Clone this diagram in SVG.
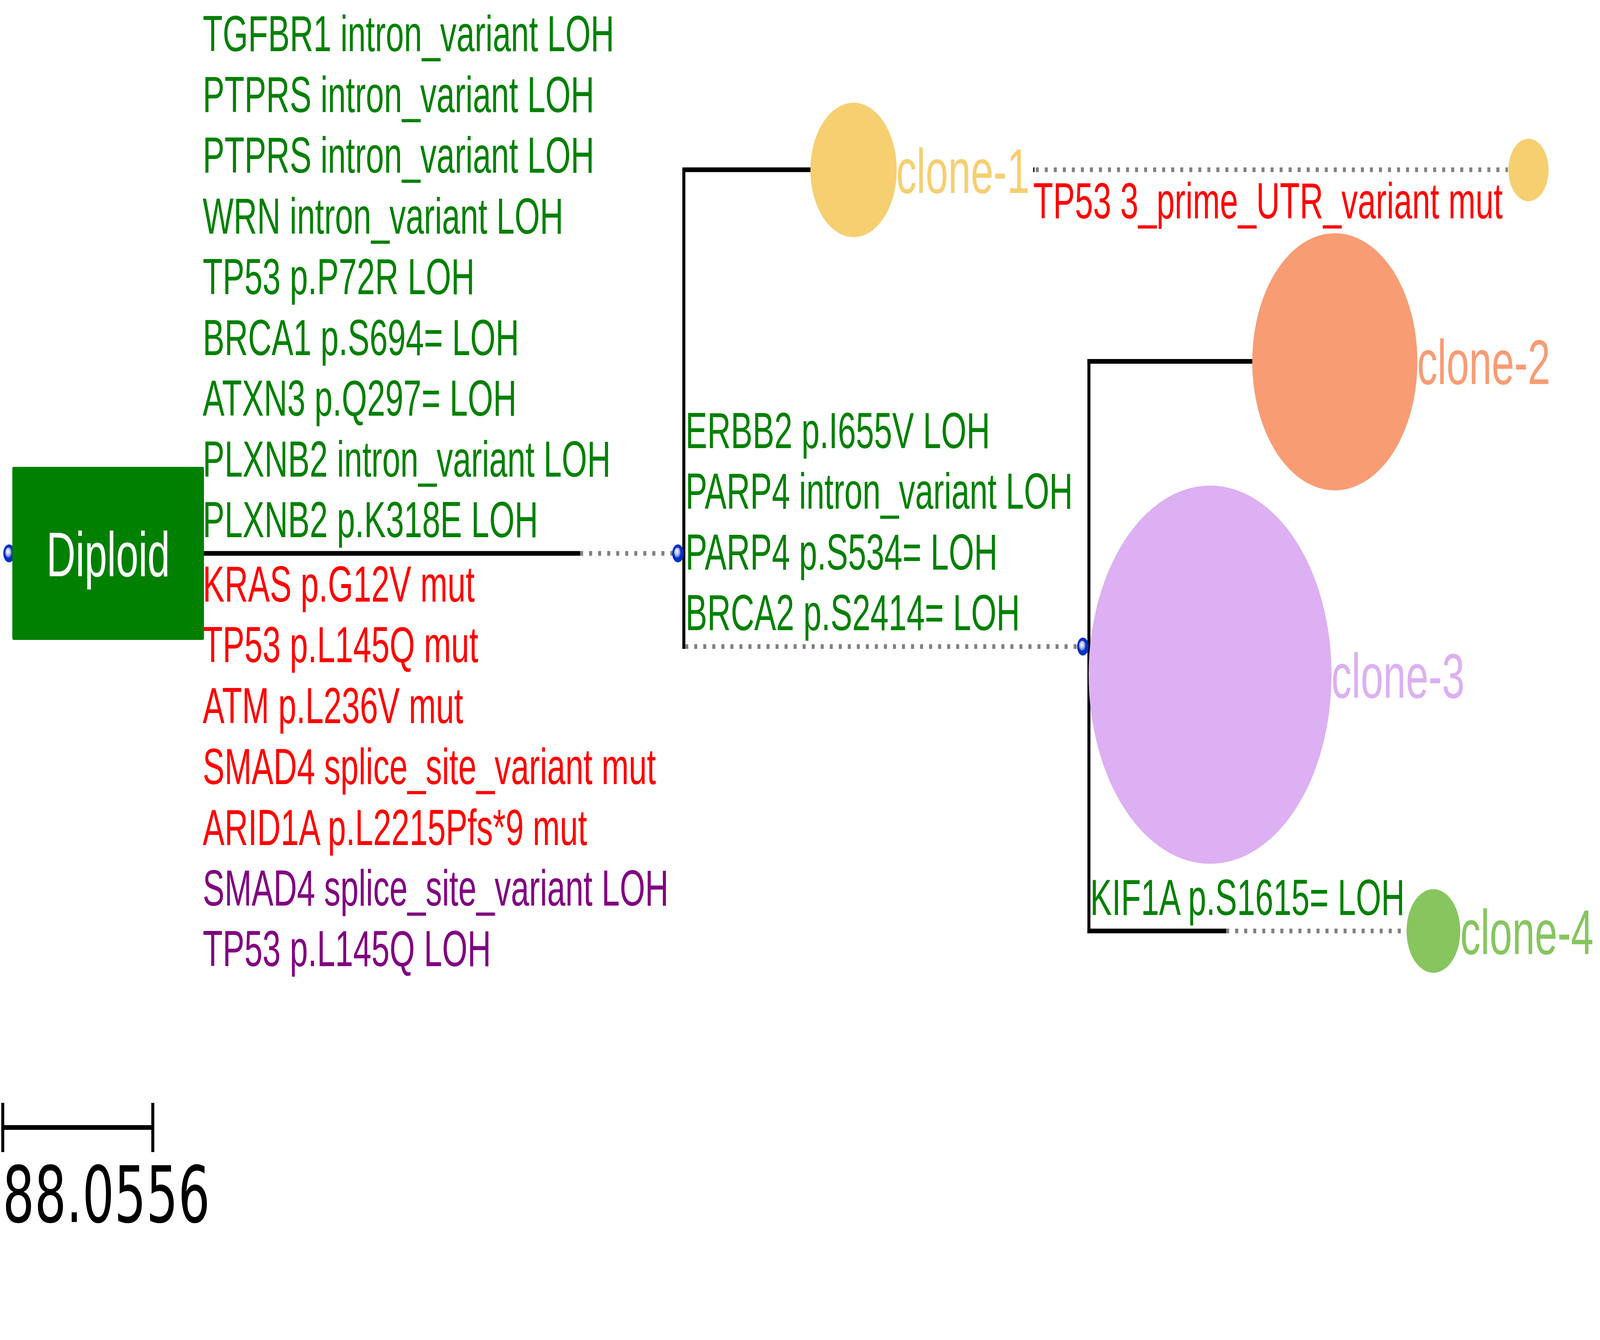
<svg xmlns="http://www.w3.org/2000/svg" xmlns:xlink="http://www.w3.org/1999/xlink" width="6377" height="3430" viewBox="0 0 6377 3430" preserveAspectRatio="none">
<style>
  svg:root { width: 100vw; height: 100vh; }
  .t { font-family: "Liberation Sans", Arial, sans-serif; font-size: 130px; }
  .g { fill: #008000; }
  .r { fill: #ff0000; }
  .p { fill: #800080; }
  .lbl { font-family: "Liberation Sans", Arial, sans-serif; font-size: 162px; }
  .br { stroke: #000000; stroke-width: 12; fill: none; stroke-linecap: butt; }
  .dot { stroke: #808080; stroke-width: 12; fill: none; stroke-dasharray: 12 24; }
</style>
<defs>
  <radialGradient id="sph" cx="0.42" cy="0.4" r="0.6">
    <stop offset="0" stop-color="#ffffff"/>
    <stop offset="0.6" stop-color="#aab6ee"/>
    <stop offset="1" stop-color="#3a58d0"/>
  </radialGradient>
  <g id="sphere">
    <circle cx="0" cy="0" r="23" fill="#0530c4"/>
    <circle cx="-2" cy="-2" r="13" fill="url(#sph)"/>
  </g>
</defs>
<rect width="6377" height="3430" fill="#ffffff"/>

<g id="connectors">
  <line class="br" x1="808" y1="1416.5" x2="2312" y2="1416.5"/>
  <line class="dot" x1="2312" y1="1416.5" x2="2684" y2="1416.5"/>
  <line class="br" x1="2725.5" y1="429" x2="2725.5" y2="1661"/>
  <line class="br" x1="2720" y1="434.5" x2="3232" y2="434.5"/>
  <line class="dot" x1="2731" y1="1655" x2="4296" y2="1655"/>
  <line stroke="#000" stroke-width="12" x1="4118" y1="434.5" x2="4123" y2="434.5"/>
  <line class="dot" x1="4128" y1="434.5" x2="6010" y2="434.5"/>
  <line class="br" x1="4340" y1="919" x2="4340" y2="2389"/>
  <line class="br" x1="4334" y1="925" x2="4994" y2="925"/>
  <line class="br" x1="4334" y1="2383" x2="4887" y2="2383"/>
  <line class="dot" x1="4887" y1="2383" x2="5600" y2="2383"/>
</g>

<g id="node-root">
  <use xlink:href="#sphere" href="#sphere" x="36" y="1416.5"/>
</g>

<g id="node-diploid">
  <rect x="49" y="1195" width="764" height="443" rx="5" fill="#008000"/>
  <text x="431" y="1475" text-anchor="middle" font-family="Liberation Sans, Arial, sans-serif" font-size="161" fill="#ffffff">Diploid</text>
</g>

<g id="labels-diploid-branch" class="t">
  <text class="g" x="808" y="131">TGFBR1 intron_variant LOH</text>
  <text class="g" x="808" y="287">PTPRS intron_variant LOH</text>
  <text class="g" x="808" y="442">PTPRS intron_variant LOH</text>
  <text class="g" x="808" y="598">WRN intron_variant LOH</text>
  <text class="g" x="808" y="753">TP53 p.P72R LOH</text>
  <text class="g" x="808" y="909">BRCA1 p.S694= LOH</text>
  <text class="g" x="808" y="1064">ATXN3 p.Q297= LOH</text>
  <text class="g" x="808" y="1220">PLXNB2 intron_variant LOH</text>
  <text class="g" x="808" y="1375">PLXNB2 p.K318E LOH</text>
  <text class="r" x="808" y="1540">KRAS p.G12V mut</text>
  <text class="r" x="808" y="1695">TP53 p.L145Q mut</text>
  <text class="r" x="808" y="1851">ATM p.L236V mut</text>
  <text class="r" x="808" y="2007">SMAD4 splice_site_variant mut</text>
  <text class="r" x="808" y="2163">ARID1A p.L2215Pfs*9 mut</text>
  <text class="p" x="808" y="2318">SMAD4 splice_site_variant LOH</text>
  <text class="p" x="808" y="2473">TP53 p.L145Q LOH</text>
</g>

<g id="node-internal-1">
  <use xlink:href="#sphere" href="#sphere" x="2702" y="1416.5"/>
</g>

<g id="labels-internal-branch" class="t">
  <text class="g" x="2732" y="1147">ERBB2 p.I655V LOH</text>
  <text class="g" x="2732" y="1302">PARP4 intron_variant LOH</text>
  <text class="g" x="2732" y="1458">PARP4 p.S534= LOH</text>
  <text class="g" x="2732" y="1613">BRCA2 p.S2414= LOH</text>
</g>

<g id="node-internal-2">
  <use xlink:href="#sphere" href="#sphere" x="4316" y="1655"/>
</g>

<g id="node-clone-1">
  <circle cx="3402" cy="435" r="172" fill="#F6CF71"/>
  <text class="lbl" x="3572" y="494" fill="#F6CF71">clone-1</text>
</g>

<g id="node-clone-1-leaf">
  <circle cx="6092" cy="435" r="80" fill="#F6CF71"/>
  <text class="t r" x="4118" y="559">TP53 3_prime_UTR_variant mut</text>
</g>

<g id="node-clone-2">
  <circle cx="5320" cy="926" r="329" fill="#F89C74"/>
  <text class="lbl" x="5648" y="983" fill="#F89C74">clone-2</text>
</g>

<g id="node-clone-3">
  <circle cx="4823" cy="1727" r="484" fill="#DCB0F2"/>
  <text class="lbl" x="5306" y="1786" fill="#DCB0F2">clone-3</text>
</g>

<g id="node-clone-4">
  <circle cx="5713" cy="2383" r="107" fill="#87C55F"/>
  <text class="lbl" x="5820" y="2442" fill="#87C55F">clone-4</text>
  <text class="t g" x="4345" y="2342">KIF1A p.S1615= LOH</text>
</g>

<g id="scale-bar">
  <line stroke="#000" stroke-width="12" x1="11" y1="2886" x2="609" y2="2886"/>
  <line stroke="#000" stroke-width="12" x1="11" y1="2823" x2="11" y2="2949"/>
  <line stroke="#000" stroke-width="12" x1="609" y1="2823" x2="609" y2="2949"/>
  <text x="10" y="3128" font-family="DejaVu Sans, sans-serif" font-size="200" fill="#000000">88.0556</text>
</g>
</svg>
